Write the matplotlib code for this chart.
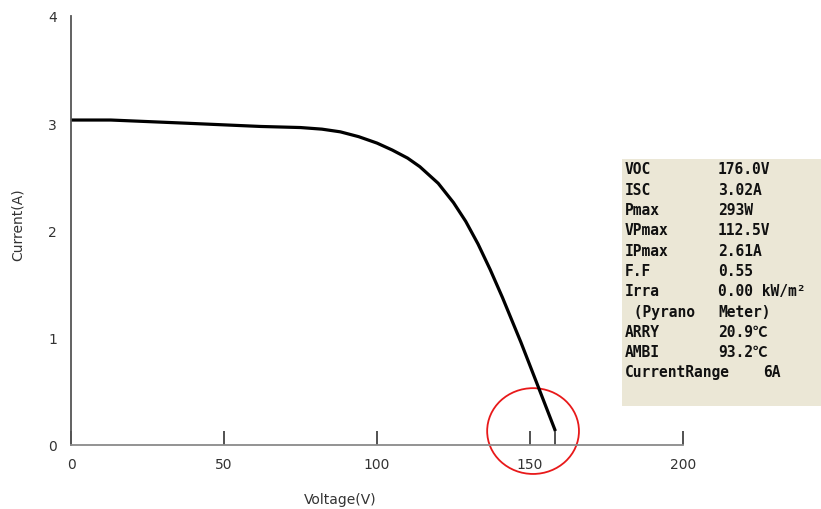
import matplotlib.pyplot as plt
from matplotlib.patches import Ellipse

# I-V curve
voltage = [0, 13, 38, 62, 75, 82, 88, 94, 100, 105, 110, 114, 120, 125, 129, 133, 137, 141, 147, 153, 158.3]
current = [3.03, 3.03, 3.00, 2.97, 2.96, 2.945, 2.92, 2.875, 2.815, 2.75, 2.675, 2.595, 2.44, 2.26, 2.085, 1.875, 1.635, 1.375, 0.96, 0.52, 0.13]

x_ticks = [0, 50, 100, 150, 200]
y_ticks = [0, 1, 2, 3, 4]

# measurement summary panel
info_keys = ['VOC', 'ISC', 'Pmax', 'VPmax', 'IPmax', 'F.F', 'Irra', ' (Pyrano', 'ARRY', 'AMBI', 'CurrentRange']
info_vals = ['176.0V', '3.02A', '293W', '112.5V', '2.61A', '0.55', '0.00 kW/m²', 'Meter)', '20.9℃', '93.2℃', '6A']

fig = plt.figure(figsize=(8.21, 5.10), dpi=100)
ax = fig.add_axes([71 / 821, 1 - 446 / 510, 612 / 821, 429 / 510])

ax.plot(voltage, current, color='black', linewidth=2.3, solid_joinstyle='round',
        solid_capstyle='butt')
# end-of-sweep marker
ax.vlines(voltage[-1], 0, current[-1], color='#333333', linewidth=1.2)

# red circle around the end of the curve
ax.add_patch(Ellipse((151, 0.13), 30, 0.80, fill=False, edgecolor='#e8191a',
                     linewidth=1.3, clip_on=False))

ax.set_xlim(0, 200)
ax.set_ylim(0, 4)
ax.set_xticks(x_ticks)
ax.set_yticks(y_ticks)
ax.tick_params(axis='x', direction='in', length=10, width=1.2, color='#333333',
               pad=9, labelsize=10, labelcolor='#333333')
ax.tick_params(axis='y', length=0, pad=10, labelsize=10, labelcolor='#333333')

for side in ['top', 'right']:
    ax.spines[side].set_visible(False)
ax.spines['left'].set_color('#555555')
ax.spines['left'].set_linewidth(1.3)
ax.spines['bottom'].set_color('#8a8a8a')
ax.spines['bottom'].set_linewidth(1.3)

fig.text(340 / 821, 1 - 500 / 510, 'Voltage(V)', ha='center', va='center',
         fontsize=10, color='#333333')
fig.text(18 / 821, 1 - 225 / 510, 'Current(A)', ha='center', va='center',
         rotation=90, fontsize=10, color='#333333')

# info box
box = fig.add_axes([622 / 821, 1 - 407 / 510, 199 / 821, 247 / 510])
box.set_facecolor('#ebe7d6')
box.set_xticks([])
box.set_yticks([])
for s in box.spines.values():
    s.set_visible(False)

mono = ['DejaVu Sans Mono', 'Noto Sans CJK JP']
row_y0 = 170
row_step = 20.3
for i, (k, v) in enumerate(zip(info_keys, info_vals)):
    y = 1 - (row_y0 + i * row_step) / 510
    fig.text(625 / 821, y, k, ha='left', va='center', family=mono,
             fontweight='bold', fontsize=10.5, color='#111111')
    vx = 763 if k == 'CurrentRange' else 718
    fig.text(vx / 821, y, v, ha='left', va='center', family=mono,
             fontweight='bold', fontsize=10.5, color='#111111')

fig.savefig('out.png', dpi=100)
